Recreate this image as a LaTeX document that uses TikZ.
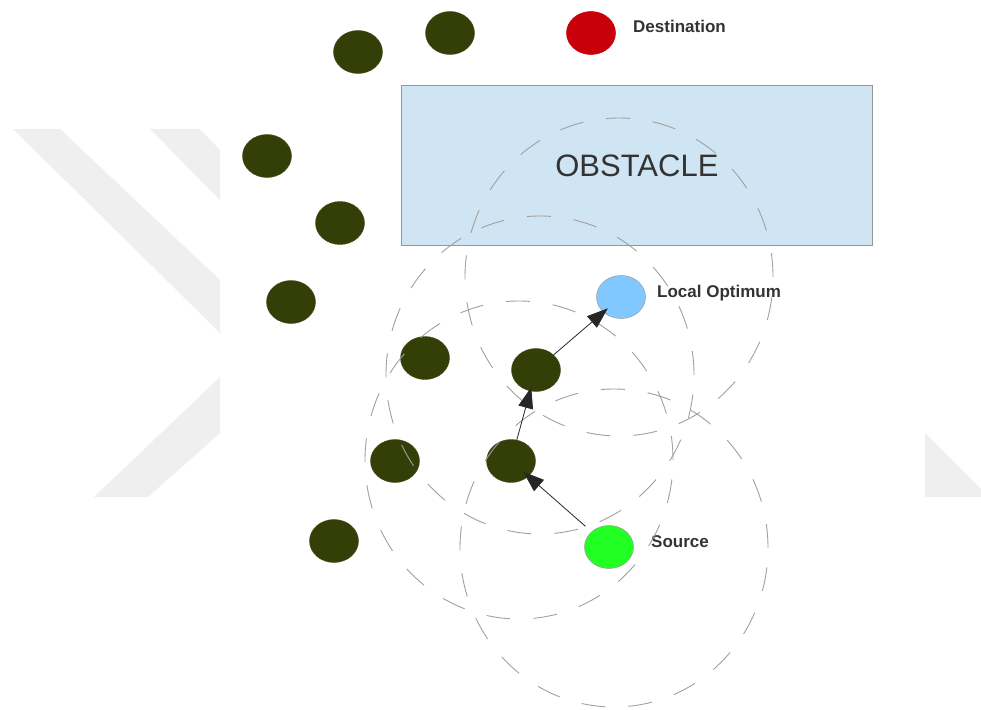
\documentclass[tikz,border=0pt]{standalone}
\usepackage{fontspec}
\setmainfont{Liberation Sans}
\usepackage{tikz}
\usetikzlibrary{arrows.meta, positioning, shapes.geometric}
\usepackage{xcolor}
\definecolor{nodegreen}{RGB}{51,63,6}
\definecolor{destred}{RGB}{200,0,10}
\definecolor{optblue}{RGB}{128,200,255}
\definecolor{srcgreen}{RGB}{34,255,34}
\definecolor{obstfill}{RGB}{207,229,243}
\definecolor{obstedge}{RGB}{150,150,150}
\definecolor{ringgray}{RGB}{160,160,160}
\definecolor{wmgray}{RGB}{239,239,239}
\definecolor{txtgray}{RGB}{51,51,51}

\begin{document}
\begin{tikzpicture}[x=1pt, y=-1pt, >={Triangle[length=21pt, width=15pt]},
  agent/.style={ellipse, fill=nodegreen, draw=nodegreen!80!gray, minimum width=49pt, minimum height=43pt, inner sep=0pt},
  hopnode/.style={agent, draw=gray!80, line width=0.5pt},
  tag/.style={anchor=base west, inner sep=0pt, text=txtgray, font=\fontsize{17}{17}\selectfont\bfseries},
  ring/.style={draw=ringgray, line width=0.9pt, dash pattern=on 24pt off 23pt},
  hop/.style={->, line width=0.8pt, black!85}]
  \useasboundingbox (0,0) rectangle (981,709);

  % watermark
  \fill[wmgray] (13,129) -- (60,129) -- (220,280) -- (220,333) -- cycle;
  \fill[wmgray] (150,129) -- (200,129) -- (220,150) -- (220,200) -- cycle;
  \fill[wmgray] (220,377) -- (220,433) -- (148,497) -- (94,497) -- cycle;
  \fill[wmgray] (925,433) -- (981,489) -- (981,497) -- (925,497) -- cycle;

  \node[draw=obstedge, fill=obstfill, line width=0.8pt, anchor=north west, minimum width=471pt, minimum height=160pt, inner sep=0pt,
        text=txtgray, font=\fontsize{31}{31}\selectfont] (obst) at (401,85) {OBSTACLE};

  % other agents
  \node[agent] (a1) at (358,52) {};
  \node[agent] (a2) at (450,33) {};
  \node[agent] (a3) at (267,156) {};
  \node[agent] (a4) at (340,223) {};
  \node[agent] (a5) at (291,302) {};
  \node[agent] (a6) at (425,358) {};
  \node[agent] (a7) at (395,461) {};
  \node[agent] (a8) at (334,541) {};

  % path nodes
  \node[agent] (hopA) at (511,461) {};
  \node[agent] (hopB) at (536,370) {};
  \node[hopnode, fill=destred, draw=destred] (dest) at (591,33) {};
  \node[hopnode, fill=optblue] (lopt) at (621,297) {};
  \node[hopnode, fill=srcgreen] (src) at (609,547) {};

  \node[tag] (destlbl) at (633,33) {Destination};
  \node[tag] (loptlbl) at (657,297) {Local Optimum};
  \node[tag] (srclbl) at (651,547) {Source};

  % ranges
  \foreach \cx/\cy in {619/277, 540/375, 519/460, 614/548}
    \draw[ring] (\cx,\cy) ellipse [x radius=154pt, y radius=159pt];

  \draw[hop, shorten <=8pt, shorten >=-7pt] (src) -- (hopA);
  \draw[hop, shorten >=-4pt] (hopA) -- (hopB);
  \draw[hop, shorten >=-6pt] (hopB) -- (lopt);
\end{tikzpicture}
\end{document}
